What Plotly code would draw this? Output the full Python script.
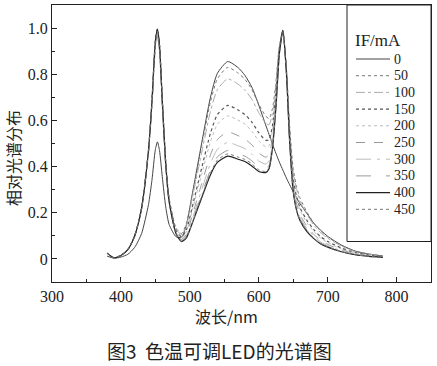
import plotly.graph_objects as go

wavelength = [380, 390, 400, 410, 420, 430, 440, 445, 450, 453, 456, 460, 465, 470, 480, 488, 495, 505, 517,
              530, 540, 555, 570, 580, 590, 600, 610, 615, 620, 625, 630, 635, 640, 645, 650, 655, 660, 670,
              680, 690, 700, 720, 740, 760, 780]

currents = ["0", "50", "100", "150", "200", "250", "300", "350", "400", "450"]

s0 = [0.012, 0.003, 0.008, 0.02, 0.05, 0.11, 0.235, 0.34, 0.474, 0.507, 0.47, 0.357, 0.226, 0.149, 0.096, 0.094, 0.147, 0.304, 0.498,
      0.701, 0.804, 0.855, 0.829, 0.795, 0.744, 0.667, 0.581, 0.539, 0.496, 0.457, 0.419, 0.385, 0.351, 0.321, 0.291, 0.265, 0.239, 0.197,
      0.154, 0.124, 0.098, 0.060, 0.034, 0.021, 0.013]
s50 = [0.025, 0.005, 0.015, 0.04, 0.10, 0.22, 0.47, 0.68, 0.944, 0.997, 0.93, 0.697, 0.425, 0.263, 0.134, 0.11, 0.153, 0.30, 0.486,
       0.681, 0.780, 0.83, 0.805, 0.778, 0.734, 0.671, 0.619, 0.608, 0.652, 0.767, 0.926, 0.984, 0.828, 0.567, 0.392, 0.312, 0.263, 0.203,
       0.155, 0.120, 0.095, 0.058, 0.033, 0.021, 0.012]
s100 = [0.025, 0.005, 0.015, 0.04, 0.10, 0.22, 0.47, 0.68, 0.944, 0.996, 0.929, 0.696, 0.423, 0.261, 0.131, 0.105, 0.145, 0.283, 0.457,
        0.64, 0.733, 0.78, 0.757, 0.731, 0.692, 0.634, 0.588, 0.581, 0.631, 0.756, 0.926, 0.991, 0.832, 0.562, 0.38, 0.30, 0.25, 0.192,
        0.146, 0.113, 0.09, 0.055, 0.031, 0.020, 0.012]
s150 = [0.025, 0.005, 0.015, 0.04, 0.10, 0.22, 0.47, 0.68, 0.943, 0.995, 0.928, 0.693, 0.42, 0.257, 0.123, 0.095, 0.126, 0.243, 0.391,
        0.545, 0.625, 0.665, 0.645, 0.625, 0.593, 0.547, 0.514, 0.516, 0.579, 0.722, 0.913, 0.989, 0.825, 0.539, 0.35, 0.268, 0.221, 0.167,
        0.127, 0.096, 0.076, 0.047, 0.027, 0.017, 0.010]
s200 = [0.025, 0.005, 0.015, 0.04, 0.099, 0.218, 0.465, 0.673, 0.934, 0.985, 0.918, 0.685, 0.415, 0.253, 0.119, 0.091, 0.119, 0.227, 0.365,
        0.508, 0.583, 0.62, 0.601, 0.584, 0.553, 0.512, 0.486, 0.49, 0.559, 0.708, 0.908, 0.989, 0.822, 0.531, 0.339, 0.256, 0.21, 0.157,
        0.119, 0.09, 0.071, 0.043, 0.025, 0.016, 0.009]
s250 = [0.025, 0.005, 0.015, 0.039, 0.098, 0.216, 0.461, 0.666, 0.924, 0.974, 0.909, 0.677, 0.409, 0.247, 0.114, 0.084, 0.108, 0.203, 0.324,
        0.451, 0.517, 0.55, 0.534, 0.519, 0.494, 0.459, 0.441, 0.451, 0.526, 0.686, 0.899, 0.988, 0.818, 0.517, 0.32, 0.238, 0.191, 0.142,
        0.106, 0.08, 0.063, 0.039, 0.022, 0.014, 0.008]
s300 = [0.025, 0.005, 0.015, 0.039, 0.098, 0.216, 0.461, 0.666, 0.924, 0.974, 0.908, 0.676, 0.407, 0.245, 0.111, 0.079, 0.101, 0.187, 0.298,
        0.414, 0.475, 0.505, 0.49, 0.478, 0.454, 0.424, 0.411, 0.424, 0.506, 0.673, 0.893, 0.987, 0.815, 0.508, 0.309, 0.225, 0.179, 0.131,
        0.099, 0.073, 0.058, 0.035, 0.020, 0.013, 0.008]
s350 = [0.024, 0.005, 0.015, 0.039, 0.097, 0.213, 0.456, 0.66, 0.914, 0.964, 0.898, 0.669, 0.402, 0.242, 0.109, 0.076, 0.094, 0.175, 0.278,
        0.385, 0.442, 0.47, 0.456, 0.445, 0.425, 0.398, 0.39, 0.405, 0.491, 0.664, 0.893, 0.992, 0.817, 0.504, 0.30, 0.216, 0.171, 0.124,
        0.093, 0.068, 0.054, 0.033, 0.019, 0.012, 0.007]
s400 = [0.025, 0.005, 0.015, 0.04, 0.10, 0.22, 0.47, 0.68, 0.942, 0.994, 0.925, 0.689, 0.413, 0.248, 0.109, 0.075, 0.091, 0.166, 0.263,
        0.365, 0.418, 0.445, 0.432, 0.422, 0.403, 0.379, 0.374, 0.391, 0.479, 0.657, 0.89, 0.99, 0.814, 0.499, 0.293, 0.209, 0.165, 0.118,
        0.088, 0.065, 0.051, 0.031, 0.018, 0.011, 0.007]
s450 = [0.025, 0.005, 0.015, 0.04, 0.099, 0.218, 0.465, 0.673, 0.933, 0.984, 0.916, 0.682, 0.41, 0.246, 0.109, 0.076, 0.093, 0.169, 0.269,
        0.373, 0.428, 0.455, 0.441, 0.431, 0.412, 0.386, 0.379, 0.396, 0.482, 0.656, 0.886, 0.985, 0.811, 0.499, 0.295, 0.211, 0.166, 0.121,
        0.09, 0.066, 0.052, 0.032, 0.018, 0.011, 0.007]

series = [s0, s50, s100, s150, s200, s250, s300, s350, s400, s450]

x_ticks = [300, 400, 500, 600, 700, 800]
y_ticks = [0, 0.2, 0.4, 0.6, 0.8, 1.0]
y_tick_text = ["0", "0.2", "0.4", "0.6", "0.8", "1.0"]

styles = [
    dict(color="#444444", dash="solid", width=1),
    dict(color="#777777", dash="dot", width=1),
    dict(color="#aaaaaa", dash="dashdot", width=1),
    dict(color="#555555", dash="dot", width=1.2),
    dict(color="#bbbbbb", dash="dot", width=1),
    dict(color="#999999", dash="dash", width=1),
    dict(color="#bbbbbb", dash="longdashdot", width=1),
    dict(color="#999999", dash="longdash", width=1),
    dict(color="#222222", dash="solid", width=1.2),
    dict(color="#777777", dash="dot", width=1),
]

serif = "Liberation Serif, Times New Roman, serif"
cjk = "Noto Sans CJK SC"
ink = "#222222"

fig = go.Figure()
for name, ys, st in zip(currents, series, styles):
    fig.add_trace(go.Scatter(x=wavelength, y=ys, mode="lines", name=name, line=st,
                             line_shape="spline", line_smoothing=0.6, showlegend=False))

axis_common = dict(
    showgrid=False, zeroline=False, showline=True, linecolor=ink, linewidth=1.3,
    mirror=True, ticks="inside", ticklen=5, tickcolor=ink,
    tickfont=dict(family=serif, size=16, color=ink),
)

fig.update_xaxes(range=[300, 850], tickvals=x_ticks,
                 minor=dict(ticks="inside", ticklen=3, dtick=50, tickcolor=ink),
                 **axis_common)
fig.update_yaxes(range=[-0.1, 1.1], tickvals=y_ticks, ticktext=y_tick_text,
                 minor=dict(ticks="inside", ticklen=3, dtick=0.1, tickcolor=ink),
                 **axis_common)

L, R, T, B = 52, 6, 5, 84
W, H = 437, 366
pw = W - L - R
ph = H - T - B


def px_to_paper(px, py):
    return (px - L) / pw, (H - B - py) / ph


# titles and caption
ann_specs = [
    ("波长/nm", 226, 316, 0, 16, cjk),
    ("图3  色温可调LED的光谱图", 219, 350, 0, 19, cjk),
    ("相对光谱分布", 13, 158, -90, 16, cjk),
]
annotations = []
for text, px, py, ang, size, fam in ann_specs:
    ax, ay = px_to_paper(px, py)
    annotations.append(dict(text=text, x=ax, y=ay, xref="paper", yref="paper", showarrow=False,
                            xanchor="center", yanchor="middle", textangle=ang,
                            font=dict(family=fam, size=size, color=ink)))

# legend box (drawn manually for compact spacing)
shapes = []
bx0, by0 = px_to_paper(347, 5)
bx1, by1 = px_to_paper(W - R, 241.5)
shapes.append(dict(type="rect", xref="paper", yref="paper", x0=bx0, x1=bx1, y0=by1, y1=by0,
                   fillcolor="white", line=dict(color=ink, width=1), layer="above"))
tx, ty = px_to_paper(378, 40)
annotations.append(dict(text="IF/mA", x=tx, y=ty, xref="paper", yref="paper", showarrow=False,
                        xanchor="center", yanchor="middle", borderpad=0,
                        font=dict(family=serif, size=17, color=ink)))
row0, row_step = 59, 16.7
for i, (name, st) in enumerate(zip(currents, styles)):
    ypx = row0 + i * row_step
    lx0, ly = px_to_paper(356, ypx)
    lx1, _ = px_to_paper(390, ypx)
    shapes.append(dict(type="line", xref="paper", yref="paper", x0=lx0, x1=lx1, y0=ly, y1=ly,
                       line=dict(color=st["color"], dash=st["dash"], width=st["width"]), layer="above"))
    labx, laby = px_to_paper(393, ypx)
    annotations.append(dict(text=name, x=labx, y=laby, xref="paper", yref="paper", showarrow=False,
                            xanchor="left", yanchor="middle", borderpad=0,
                            font=dict(family=serif, size=14, color=ink)))

fig.update_layout(
    width=W, height=H,
    margin=dict(l=L, r=R, t=T, b=B),
    paper_bgcolor="white", plot_bgcolor="white",
    showlegend=False,
    annotations=annotations,
    shapes=shapes,
)

fig.write_html("out.html", config={"displayModeBar": False},
               post_script="document.body.style.margin='0';document.body.style.padding='0';")
